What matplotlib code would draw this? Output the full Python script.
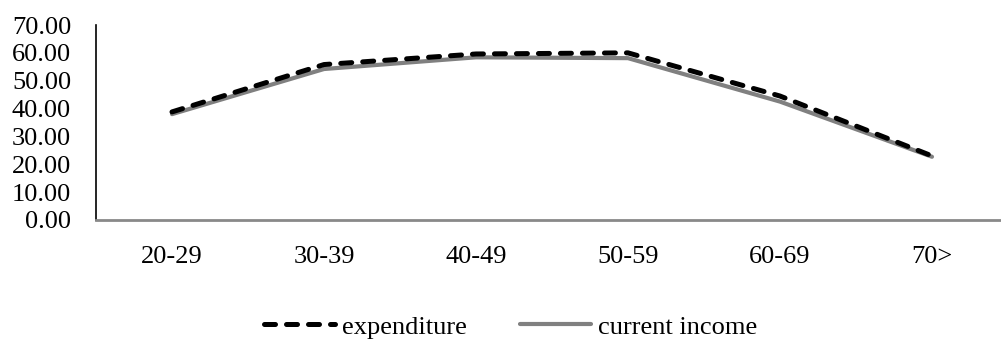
import numpy as np
import matplotlib.pyplot as plt

plt.rcParams['font.family'] = ['Liberation Serif', 'DejaVu Serif']

groups = ["20-29", "30-39", "40-49", "50-59", "60-69", "70>"]
expenditure = [38.8, 55.8, 59.6, 60.0, 44.5, 23.0]
current_income = [38.0, 54.2, 58.4, 58.1, 42.5, 22.7]
y_ticks = np.arange(0, 71, 10)

fig = plt.figure(figsize=(10.01, 3.46), dpi=100)
ax = fig.add_axes([96/1001, 1 - 220/346, 1 - 96/1001, (220 - 25)/346])

x = np.arange(len(groups))
ax.plot(x, expenditure, color="black", lw=3.6, dashes=(2.2, 2.2),
        dash_capstyle="round", solid_capstyle="round", label="expenditure", zorder=3)
ax.plot(x, current_income, color="#808080", lw=3.0,
        solid_capstyle="round", label="current income", zorder=2)

ax.set_xlim(-0.5, 5.454)
ax.set_ylim(0, 70)
ax.set_yticks(y_ticks)
ax.set_yticklabels([f"{v:.2f}" for v in y_ticks])
ax.set_xticks(x)
ax.set_xticklabels(groups)
ax.tick_params(axis="y", length=0, pad=18, labelsize=19)
ax.tick_params(axis="x", length=0, pad=19, labelsize=19)

for side in ("top", "right"):
    ax.spines[side].set_visible(False)
ax.spines["left"].set_color("black")
ax.spines["left"].set_linewidth(1.2)
ax.spines["bottom"].set_color("#898989")
ax.spines["bottom"].set_linewidth(2.0)

fig.legend(loc="center", bbox_to_anchor=(0.51, 0.055), ncol=2, frameon=False,
           fontsize=19, handlelength=2.7, handletextpad=0.25, columnspacing=2.0)

fig.savefig("out.png", dpi=100)
